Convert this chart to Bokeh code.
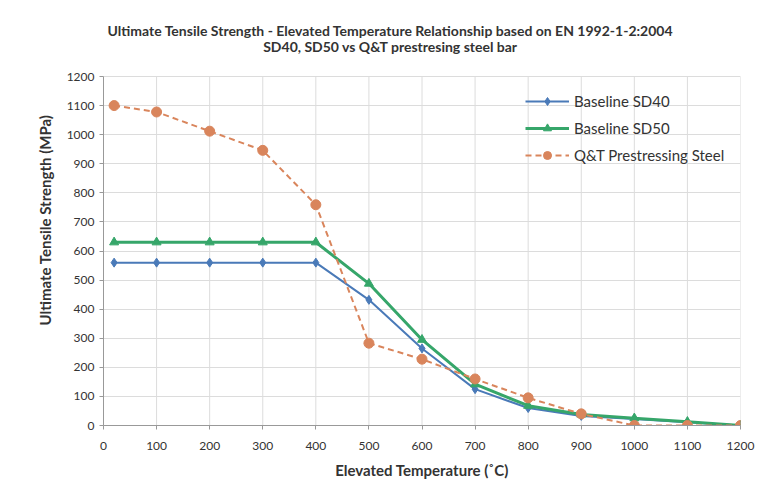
from bokeh.plotting import figure
from bokeh.models import Range1d, FixedTicker, Legend, LegendItem, Label
from bokeh.embed import file_html
from bokeh.resources import INLINE

temps = [20, 100, 200, 300, 400, 500, 600, 700, 800, 900, 1000, 1100, 1200]
sd40 = [560, 560, 560, 560, 560, 432, 265, 125, 60, 33, 22, 11, 0]
sd50 = [630, 630, 630, 630, 630, 488, 295, 142, 68, 38, 25, 13, 0]
qt = [1100, 1078, 1012, 946, 759, 283, 228, 160, 95, 40, 0, 0, 0]
ticks = list(range(0, 1300, 100))
title1 = "Ultimate Tensile Strength - Elevated Temperature Relationship based on EN 1992-1-2:2004"
title2 = "SD40, SD50 vs Q&T prestresing steel bar"

FONT = "Lato"
W, H = 760, 490
FL, FR, FB = 103, 740, 425      # frame edges (canvas px)
TOP1200 = 76                    # canvas y of the 1200 gridline
FT = 14                         # frame top extended upwards to host the title
YMAX = 1200 * (FB - FT) / (FB - TOP1200)

p = figure(width=W, height=H, output_backend="svg", toolbar_location=None,
           x_range=Range1d(0, 1200), y_range=Range1d(0, YMAX),
           min_border_left=FL, min_border_right=W - FR, min_border_top=FT,
           min_border_bottom=H - FB)
p.outline_line_color = None
p.background_fill_color = "white"
p.border_fill_color = "white"

# screen units of annotations are measured from the frame's bottom-left corner
for txt, ycanvas in ((title1, 30), (title2, 46)):
    p.add_layout(Label(x=390 - FL, y=FB - ycanvas, x_units="screen", y_units="screen", text=txt,
                       text_align="center", text_baseline="middle",
                       text_font=FONT, text_font_size="14px", text_font_style="bold",
                       text_color="#333333"))

for ax in (p.xaxis[0], p.yaxis[0]):
    ax.ticker = FixedTicker(ticks=ticks)
    ax.bounds = (0, 1200)
    ax.minor_tick_line_color = None
    ax.axis_line_color = "#999999"
    ax.major_tick_line_color = "#999999"
    ax.major_tick_in = 0
    ax.major_tick_out = 4
    ax.major_label_text_font = FONT
    ax.major_label_text_font_size = "12px"
    ax.major_label_text_color = "#333333"
    ax.axis_label_text_font = FONT
    ax.axis_label_text_font_size = "15px"
    ax.axis_label_text_font_style = "bold"
    ax.axis_label_text_color = "#333333"
p.xaxis.axis_label = "Elevated Temperature (˚C)"
p.yaxis.axis_label = "Ultimate Tensile Strength (MPa)"
p.xaxis.major_label_standoff = 12
p.xaxis.axis_label_standoff = 8
p.yaxis.axis_label_standoff = 10

p.xgrid.visible = False
p.ygrid.ticker = FixedTicker(ticks=ticks)
p.ygrid.grid_line_color = "#dcdcdc"
p.segment(x0=ticks[1:], y0=[0] * len(ticks[1:]), x1=ticks[1:], y1=[1200] * len(ticks[1:]),
          line_color="#dcdcdc", line_width=1)

blue = "#4a7ab8"
green = "#36a66a"
orange = "#d9855c"

l1 = p.line(temps, sd40, line_color=blue, line_width=2)
m1 = p.scatter(temps, sd40, marker="diamond", size=9, fill_color=blue, line_color=blue)
l2 = p.line(temps, sd50, line_color=green, line_width=3)
m2 = p.scatter(temps, sd50, marker="triangle", size=9, fill_color=green, line_color=green)
l3 = p.line(temps, qt, line_color=orange, line_width=2, line_dash="6 4")
m3 = p.scatter(temps, qt, marker="circle", size=10, fill_color=orange, line_color=orange)

legend = Legend(items=[
    LegendItem(label="Baseline SD40", renderers=[l1, m1]),
    LegendItem(label="Baseline SD50", renderers=[l2, m2]),
    LegendItem(label="Q&T Prestressing Steel", renderers=[l3, m3]),
], location=(525 - FL, FB - 165), border_line_color=None, background_fill_alpha=0,
   label_text_font=FONT, label_text_font_size="15px", label_text_color="#333333",
   glyph_width=44, glyph_height=20, label_height=20, label_standoff=5,
   spacing=7, padding=6)
p.add_layout(legend, "center")

open("out.html", "w").write(file_html(p, INLINE))
